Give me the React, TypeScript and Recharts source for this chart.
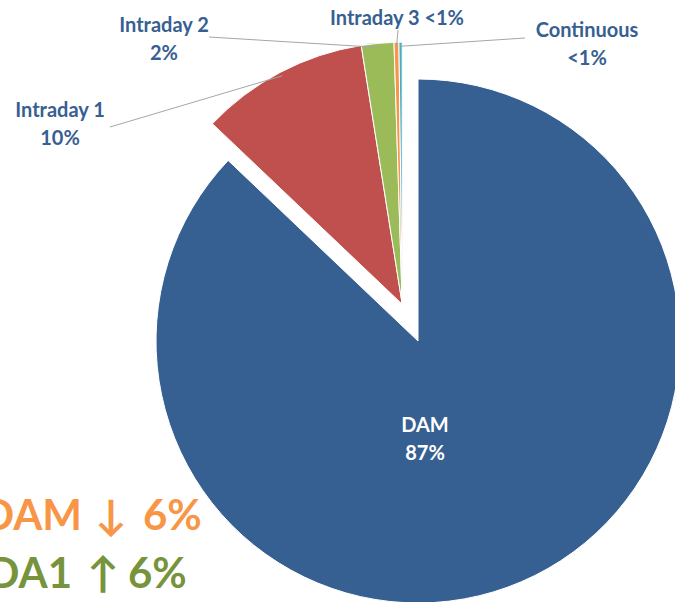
import { PieChart, Pie, Cell } from 'recharts';

const NAMES = ['DAM', 'Intraday 1', 'Intraday 2', 'Intraday 3', 'Continuous'];
const SHARES = [87.1, 10.4, 2.0, 0.3, 0.2];
const PCT_TEXT = ['87%', '10%', '2%', '<1%', '<1%'];
const COLORS = ['#376092', '#C0504D', '#9BBB59', '#F79646', '#4BACC6'];

const data = NAMES.map((name, i) => ({ name, value: SHARES[i], pct: PCT_TEXT[i] }));

const W = 675;
const H = 602;
const CX = 418;
const CY = 341;
const R = 262;
const EXPLODE = 40;
const RADIAN = Math.PI / 180;
const LABEL_BLUE = '#376092';
const FONT = 'Lato, "Open Sans", sans-serif';

// the small slices are pulled out together, along the middle of their group
const total = SHARES.reduce((a, b) => a + b, 0);
const restShare = (total - SHARES[0]) / total;
const groupMid = -270 + (restShare * 360) / 2;
const CX2 = CX + EXPLODE * Math.cos(groupMid * RADIAN);
const CY2 = CY - EXPLODE * Math.sin(groupMid * RADIAN);

// where each label sits and where its leader line starts
const LABEL_LAYOUT: Record<string, { x: number; y: number; inline?: boolean; from?: [number, number]; color?: string }> = {
  DAM: { x: 425, y: 432, color: '#fff' },
  'Intraday 1': { x: 60, y: 117, from: [110, 127] },
  'Intraday 2': { x: 164, y: 32, from: [209, 37] },
  'Intraday 3': { x: 397, y: 25, inline: true, from: [398, 30] },
  Continuous: { x: 587, y: 37, from: [525, 38] },
};

function renderLabel(show: (i: number) => boolean) {
  return (props: any) => {
    const { index, name, midAngle, cx, cy, outerRadius, payload } = props;
    if (!show(index)) return null;
    const lay = LABEL_LAYOUT[name];
    if (!lay) return null;
    const pct = payload?.pct ?? PCT_TEXT[index];
    const ex = cx + (outerRadius - 4) * Math.cos(-midAngle * RADIAN);
    const ey = cy + (outerRadius - 4) * Math.sin(-midAngle * RADIAN);
    return (
      <g key={`lbl-${index}`}>
        {lay.from && (
          <line x1={lay.from[0]} y1={lay.from[1]} x2={ex} y2={ey} stroke="#A6A6A6" strokeWidth={1} />
        )}
        <text
          x={lay.x}
          y={lay.y}
          textAnchor="middle"
          fill={lay.color ?? LABEL_BLUE}
          fontFamily={FONT}
          fontWeight={700}
          fontSize={20}
        >
          {lay.inline ? (
            `${name} ${pct}`
          ) : (
            <>
              <tspan x={lay.x} y={lay.y}>{name}</tspan>
              <tspan x={lay.x} y={lay.y + 28}>{pct}</tspan>
            </>
          )}
        </text>
      </g>
    );
  };
}

const bigText = { fontFamily: FONT, fontWeight: 700, fontSize: 42 };

export default function App() {
  return (
    <div style={{ position: 'absolute', left: 0, top: 0, width: W, height: H, overflow: 'hidden', background: '#fff' }}>
      <PieChart width={W} height={H} margin={{ top: 0, right: 0, bottom: 0, left: 0 }}>
        <Pie
          data={data}
          dataKey="value"
          nameKey="name"
          cx={CX}
          cy={CY}
          outerRadius={R}
          startAngle={90}
          endAngle={-270}
          isAnimationActive={false}
          labelLine={false}
          label={renderLabel((i) => i === 0)}
        >
          {data.map((d, i) => (
            <Cell key={d.name} fill={i === 0 ? COLORS[i] : 'none'} stroke={i === 0 ? '#fff' : 'none'} strokeWidth={1} />
          ))}
        </Pie>
        <Pie
          data={data}
          dataKey="value"
          nameKey="name"
          cx={CX2}
          cy={CY2}
          outerRadius={R}
          startAngle={90}
          endAngle={-270}
          isAnimationActive={false}
          labelLine={false}
          label={renderLabel((i) => i > 0)}
        >
          {data.map((d, i) => (
            <Cell key={d.name} fill={i === 0 ? 'none' : COLORS[i]} stroke={i === 0 ? 'none' : '#fff'} strokeWidth={1} />
          ))}
        </Pie>
      </PieChart>
      <svg width={W} height={H} style={{ position: 'absolute', left: 0, top: 0, pointerEvents: 'none' }}>
        <g fill="#F79646" {...bigText}>
          <text x={82} y={530} textAnchor="end">DAM</text>
          <text x={111} y={530} textAnchor="middle">↓</text>
          <text x={143} y={530}>6%</text>
        </g>
        <g fill="#77933C" {...bigText}>
          <text x={72} y={588} textAnchor="end">DA1</text>
          <text x={103} y={588} textAnchor="middle">↑</text>
          <text x={128} y={588}>6%</text>
        </g>
      </svg>
    </div>
  );
}
